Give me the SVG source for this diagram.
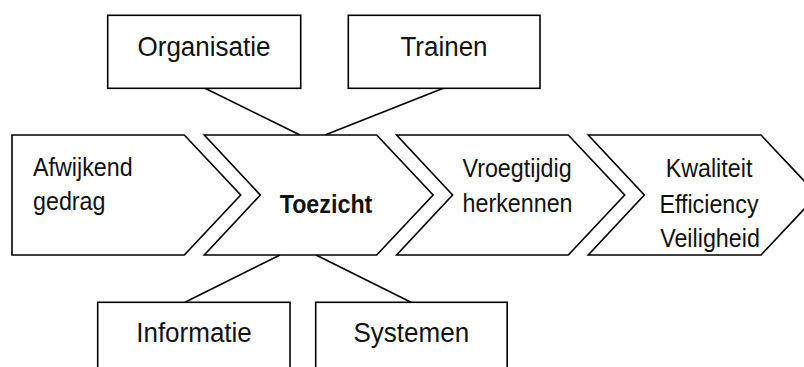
<svg xmlns="http://www.w3.org/2000/svg" width="804" height="367" viewBox="0 0 804 367">
<style>
.box{fill:#fff;stroke:#000;stroke-width:1.6}
.conn{stroke:#000;stroke-width:1.6;fill:none}
.t{font-family:"Liberation Sans",Arial,sans-serif;fill:#111}
.bt{font-size:26px;text-anchor:middle}
.ct{font-size:23.3px}
.mid{text-anchor:middle}
.bold{font-weight:bold}
</style>
<rect width="804" height="367" fill="#fff"/>
<g id="connectors">
<line class="conn" x1="205" y1="88.3" x2="300" y2="135"/>
<line class="conn" x1="443.3" y1="88.3" x2="325" y2="135"/>
<line class="conn" x1="280" y1="255" x2="185" y2="302.3"/>
<line class="conn" x1="316" y1="255" x2="411" y2="302.3"/>
</g>
<g id="organisatie">
<rect class="box" x="107.7" y="15.3" width="193" height="73"/>
<text class="t bt" transform="translate(204,56) scale(1,1.06)">Organisatie</text>
</g>
<g id="trainen">
<rect class="box" x="348.3" y="15.3" width="191.7" height="73"/>
<text class="t bt" transform="translate(444,56) scale(1,1.06)">Trainen</text>
</g>
<g id="informatie">
<rect class="box" x="97.7" y="302.3" width="192.3" height="80"/>
<text class="t bt" transform="translate(194,342) scale(1,1.06)">Informatie</text>
</g>
<g id="systemen">
<rect class="box" x="315.7" y="302.3" width="191.5" height="80"/>
<text class="t bt" transform="translate(411.3,342) scale(1,1.06)">Systemen</text>
</g>
<g id="afwijkend">
<polygon class="box" points="12,135 184.3,135 240.7,195 184.3,255 12,255"/>
<text class="t ct" transform="translate(33,176) scale(1,1.12)">Afwijkend</text>
<text class="t ct" transform="translate(33,210) scale(1,1.12)">gedrag</text>
</g>
<g id="toezicht">
<polygon class="box" points="204.3,135 376.7,135 433.1,195 376.7,255 204.3,255 260.3,195"/>
<text class="t ct mid bold" transform="translate(326,213.3) scale(1,1.12)">Toezicht</text>
</g>
<g id="vroegtijdig">
<polygon class="box" points="396.6,135 568.3,135 624.7,195 568.3,255 396.6,255 452.6,195"/>
<text class="t ct" transform="translate(462.5,176.5) scale(1,1.12)">Vroegtijdig</text>
<text class="t ct" transform="translate(462.5,211.5) scale(1,1.12)">herkennen</text>
</g>
<g id="kwaliteit">
<polygon class="box" points="588.3,135 761,135 817.4,195 761,255 588.3,255 644.3,195"/>
<text class="t ct mid" transform="translate(709,176.5) scale(1,1.12)">Kwaliteit</text>
<text class="t ct mid" transform="translate(709,212.5) scale(1,1.12)">Efficiency</text>
<text class="t ct mid" transform="translate(710,246.5) scale(1,1.12)">Veiligheid</text>
</g>
</svg>
